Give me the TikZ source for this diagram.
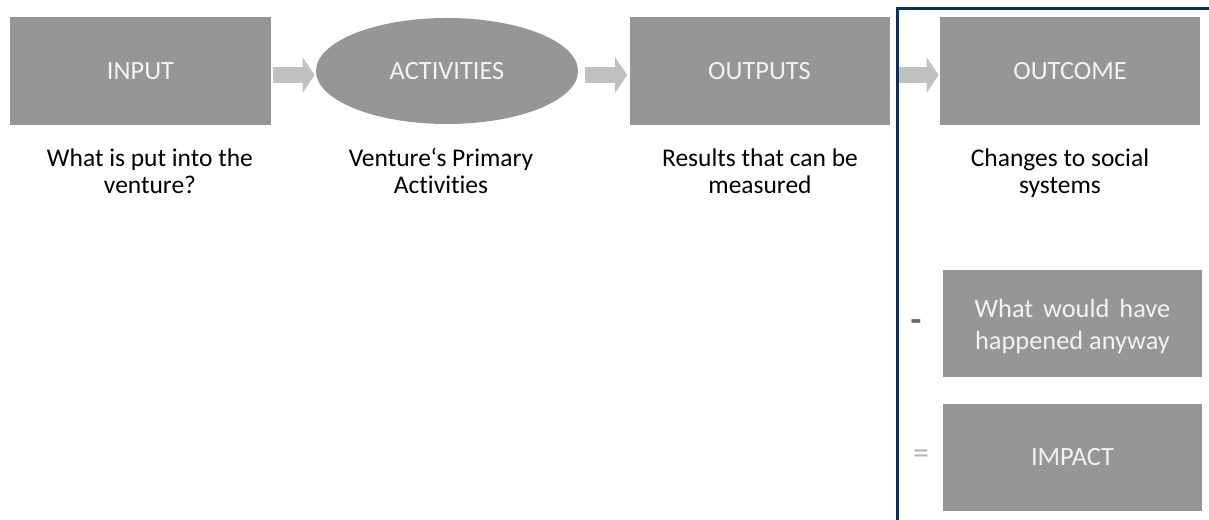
\documentclass[tikz,border=0pt]{standalone}
\usepackage{fontspec}
\setmainfont{Carlito}[Ligatures=NoCommon]
\usepackage{tikz}
\usetikzlibrary{shapes.geometric,arrows.meta,positioning}
\definecolor{boxgray}{RGB}{150,150,150}
\definecolor{arrowgray}{RGB}{192,192,192}
\definecolor{labelwhite}{RGB}{242,242,242}
\definecolor{framenavy}{RGB}{0,48,100}
\tikzstyle{stage} = [rectangle, fill=boxgray, text=labelwhite, minimum width=5.2cm, minimum height=2.16cm, text centered, font=\fontsize{15}{18}\selectfont]
\tikzstyle{blockarrow} = [line width=0.32cm, draw=arrowgray, -{Triangle[width=0.7cm, length=0.24cm]}]
\tikzstyle{caption} = [align=center, anchor=north, font=\fontsize{14.5}{15.4}\selectfont]

\begin{document}
\begin{tikzpicture}
		\useasboundingbox (0,0) rectangle (24.18,10.4);
		\coordinate (input) at (2.81,8.98);
		\coordinate (activities) at (8.94,8.98);
		\coordinate (outputs) at (15.19,8.98);
		\coordinate (outcome) at (21.40,8.98);
		\coordinate (anyway) at (21.45,3.93);
		\coordinate (impact) at (21.45,1.25);
		% Stages
		\begin{scope}[every node/.style={stage}]
		\node[name=input] at (input) {INPUT};
		\node[name=activities, ellipse, minimum width=5.24cm, minimum height=2.12cm] at (activities) {ACTIVITIES};
		\node[name=outputs] at (outputs) {OUTPUTS};
		\node[name=outcome] at (outcome) {OUTCOME};
		\node[name=anyway, minimum width=5.18cm, minimum height=2.14cm, align=center, font=\fontsize{15}{18.2}\selectfont] at (anyway) {\spaceskip=0.38em\relax\rule{0pt}{14.2pt}What would have\\happened anyway};
		\node[name=impact, minimum width=5.18cm, minimum height=2.14cm] at (impact) {IMPACT};
		\end{scope}
		% Captions
		\begin{scope}[every node/.style={caption}]
		\node[name=inputtext] at (3.0,7.54) {What is put into the\\venture?};
		\node[name=activitiestext] at (8.82,7.56) {Venture‘s Primary\\Activities};
		\node[name=outputstext] at (15.2,7.54) {Results that can be\\measured};
		\node[name=outcometext] at (21.2,7.54) {Changes to social\\systems};
		\end{scope}
		% Block arrows
		\draw [blockarrow, shorten <=0.04cm, shorten >=0.02cm] ([yshift=-0.08cm]input.east)--([yshift=-0.08cm]activities.west);
		\draw [blockarrow, shorten <=0.14cm, shorten >=0.04cm] ([yshift=-0.08cm]activities.east)--([yshift=-0.08cm]outputs.west);
		\draw [blockarrow, shorten <=0.18cm, shorten >=0.02cm] ([yshift=-0.08cm]outputs.east)--([yshift=-0.08cm]outcome.west);
		% Operators
		\node[name=minus, text=black!60, font=\fontsize{20}{20}\bfseries] at (18.32,3.88) {-};
		\node[name=equals, text=black!30, font=\fontsize{18}{18}\selectfont] at (18.42,1.27) {=};
		% Navy frame round the impact column
		\draw[framenavy, line width=0.06cm] (17.94,-0.3) -- (17.94,10.22) -- (24.5,10.22);
\end{tikzpicture}
\end{document}
